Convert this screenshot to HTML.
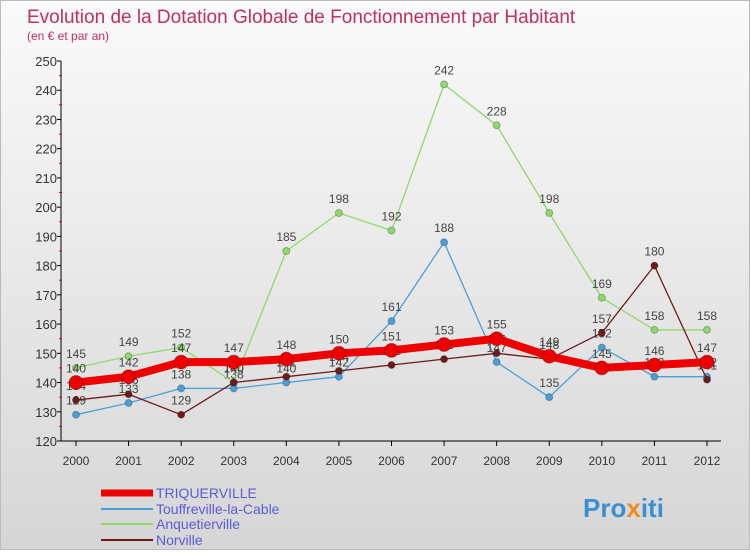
<!DOCTYPE html>
<html><head><meta charset="utf-8"><style>
body{margin:0;width:750px;height:550px;overflow:hidden;font-family:"Liberation Sans",sans-serif;}
#wrap{position:relative;width:748px;height:548px;border:1px solid #bbb;background:linear-gradient(#fafafa,#d6d6d6);}
</style></head><body>
<div id="wrap">
<svg id="c" width="748" height="548" xmlns="http://www.w3.org/2000/svg">
<text x="26" y="22" font-size="19" fill="#c0305a">Evolution de la Dotation Globale de Fonctionnement par Habitant</text>
<text x="26" y="39" font-size="12" fill="#c0305a">(en € et par an)</text>
<g id="axes"></g><g id="series"></g>
<g>
<line x1="100" y1="492" x2="152" y2="492" stroke="#e00" stroke-width="7"/>
<text x="155" y="497" font-size="14" fill="#5b5bd6">TRIQUERVILLE</text>
<line x1="100" y1="508" x2="152" y2="508" stroke="#4a9fd8" stroke-width="2"/>
<text x="155" y="513" font-size="14" fill="#5b5bd6">Touffreville-la-Cable</text>
<line x1="100" y1="523" x2="152" y2="523" stroke="#8fd86a" stroke-width="2"/>
<text x="155" y="528" font-size="14" fill="#5b5bd6">Anquetierville</text>
<line x1="100" y1="539" x2="152" y2="539" stroke="#6e1a1a" stroke-width="2"/>
<text x="155" y="544" font-size="14" fill="#5b5bd6">Norville</text>
</g>
<text x="582" y="516" font-size="26" font-weight="bold" fill="#3a8fd0">Pro<tspan fill="#f08a1a">x</tspan>iti</text>
</svg>
<script>
const years=[2000,2001,2002,2003,2004,2005,2006,2007,2008,2009,2010,2011,2012];
const triq=[140,142,147,147,148,150,151,153,155,149,145,146,147];
const touf=[129,133,138,138,140,142,161,188,147,135,152,142,142];
const anq=[145,149,152,140,185,198,192,242,228,198,169,158,158];
const norv=[134,136,129,140,142,144,146,148,150,148,157,180,141];
const yTicks=[120,130,140,150,160,170,180,190,200,210,220,230,240,250];
const X=i=>75+i*(706-75)/12;
const Y=v=>440-(v-120)*(380/130);
const NS="http://www.w3.org/2000/svg";
function mk(t,a,p){const e=document.createElementNS(NS,t);for(const k in a)e.setAttribute(k,a[k]);p.appendChild(e);return e;}
const ax=document.getElementById('axes');
mk('line',{x1:60,y1:60,x2:60,y2:440,stroke:'#000'},ax);
mk('line',{x1:60,y1:440,x2:720,y2:440,stroke:'#000'},ax);
yTicks.forEach(v=>{
 const t=mk('text',{x:56,y:Y(v)+5,'text-anchor':'end','font-size':13,fill:'#333'},ax);t.textContent=v;
 
 
 mk('line',{x1:56,y1:Y(v),x2:60,y2:Y(v),stroke:'#000'},ax);
 if(v<250)mk('line',{x1:58,y1:Y(v+5),x2:61,y2:Y(v+5),stroke:'#e00'},ax);
});
years.forEach((y,i)=>{
 mk('line',{x1:X(i),y1:440,x2:X(i),y2:445,stroke:'#000'},ax);
 const t=mk('text',{x:X(i),y:464,'text-anchor':'middle','font-size':12,fill:'#333'},ax);t.textContent=y;
 
 
});
const sg=document.getElementById('series');
function draw(vals,color,w,r,name){
 const g=mk('g',{},sg);
 
 
 mk('polyline',{points:vals.map((v,i)=>X(i)+','+Y(v)).join(' '),fill:'none',stroke:color,'stroke-width':w,'stroke-linejoin':'round'},g);
 vals.forEach((v,i)=>{
  const c=mk('circle',{cx:X(i),cy:Y(v),r:r,fill:color,stroke:'rgba(0,0,0,0.25)'},g);
  
  
  const t=mk('text',{x:X(i),y:Y(v)-10,'text-anchor':'middle','font-size':12,fill:'#444'},g);t.textContent=v;
  
  
 });
}
draw(touf,'#4a9fd8',1.3,3.5,'series-touffreville');
draw(anq,'#8fd86a',1.3,3.5,'series-anquetierville');
draw(norv,'#6e1a1a',1.3,3.5,'series-norville');
draw(triq,'#ee0000',8,7,'series-triquerville');
</script>
</div></body></html>
